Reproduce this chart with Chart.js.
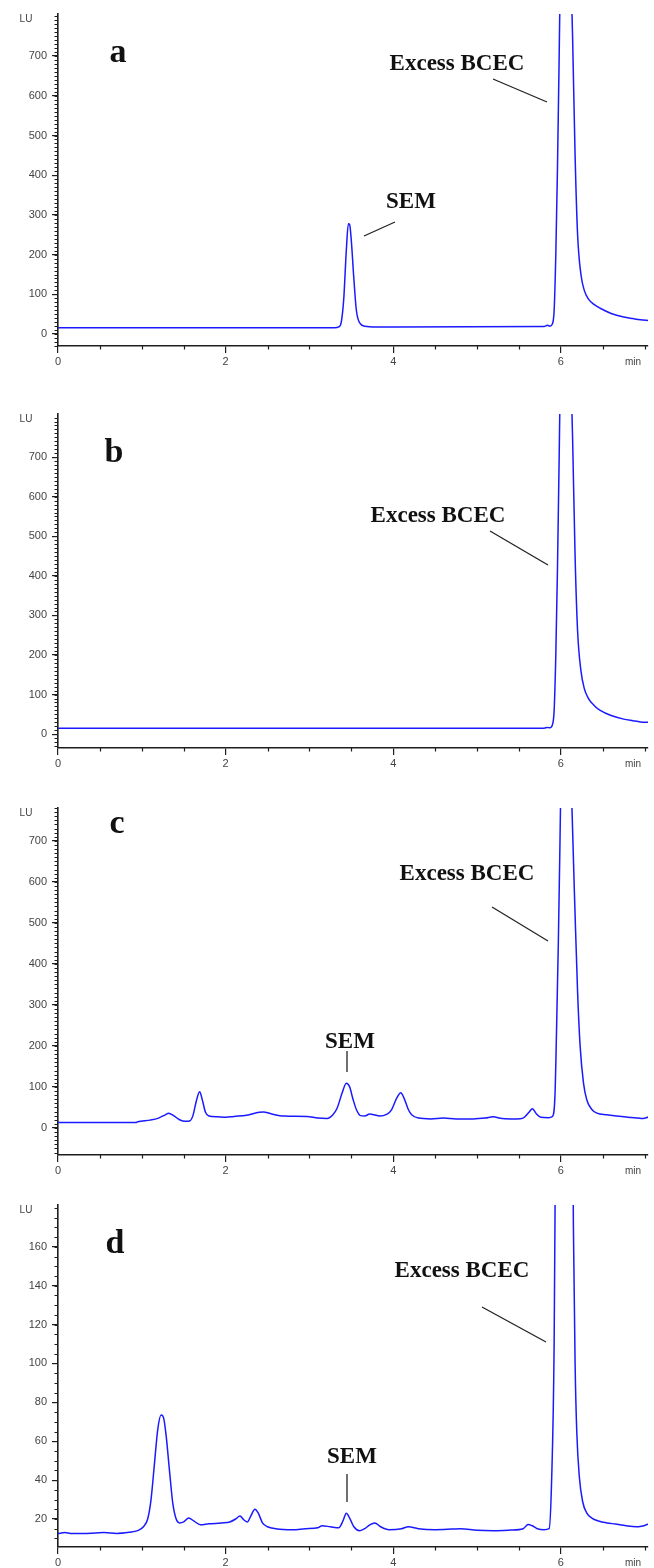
<!DOCTYPE html>
<html><head><meta charset="utf-8">
<script src="https://cdn.jsdelivr.net/npm/chart.js@4.4.1/dist/chart.umd.min.js"></script>
<style>
html,body{margin:0;padding:0;background:#fff;width:654px;height:1568px;overflow:hidden;}
.p{position:absolute;left:0;width:654px;}
canvas{display:block;}
</style></head><body>
<div class="p" style="top:0px;height:385px"><canvas id="ca" width="654" height="385"></canvas></div>
<div class="p" style="top:385px;height:395px"><canvas id="cb" width="654" height="395"></canvas></div>
<div class="p" style="top:780px;height:400px"><canvas id="cc" width="654" height="400"></canvas></div>
<div class="p" style="top:1180px;height:388px"><canvas id="cd" width="654" height="388"></canvas></div>
<script>
// ---- data (retention time in min, signal in LU) ----
const aTime   = [0, 3.30, 3.35, 3.38, 3.41, 3.44, 3.465, 3.48, 3.50, 3.53, 3.56, 3.60, 3.66, 3.80, 5.80, 5.84, 5.87, 5.90, 5.92, 5.94, 5.96, 5.98, 6.00, 6.04, 6.08, 6.11, 6.14, 6.17, 6.20, 6.24, 6.28, 6.33, 6.40, 6.47, 6.60, 6.75, 6.86, 6.95, 7.05];
const aSignal = [16, 16, 18, 30, 90, 210, 278, 276, 235, 140, 60, 28, 20, 18, 19, 22, 20, 26, 60, 200, 420, 700, 1000, 1400, 1300, 1000, 750, 450, 250, 150, 110, 88, 74, 65, 52, 43, 39, 36, 34];

const bTime   = [0, 5.80, 5.84, 5.87, 5.90, 5.92, 5.94, 5.96, 5.98, 6.00, 6.04, 6.08, 6.11, 6.14, 6.17, 6.20, 6.24, 6.28, 6.33, 6.40, 6.47, 6.60, 6.75, 6.86, 6.95, 7.05];
const bSignal = [15, 15, 17, 16, 24, 60, 200, 420, 700, 1000, 1400, 1300, 1000, 750, 450, 260, 160, 115, 90, 72, 60, 47, 38, 34, 31, 30];

const cTime   = [0, 0.93, 0.95, 1.10, 1.20, 1.28, 1.32, 1.38, 1.45, 1.52, 1.57, 1.61, 1.65, 1.69, 1.72, 1.76, 1.80, 1.90, 2.00, 2.10, 2.25, 2.40, 2.45, 2.55, 2.70, 2.97, 3.10, 3.21, 3.28, 3.33, 3.39, 3.44, 3.48, 3.52, 3.56, 3.61, 3.66, 3.72, 3.77, 3.84, 3.92, 3.98, 4.04, 4.09, 4.13, 4.18, 4.22, 4.30, 4.45, 4.60, 4.75, 4.95, 5.10, 5.19, 5.30, 5.47, 5.55, 5.62, 5.66, 5.71, 5.76, 5.85, 5.90, 5.93, 5.95, 5.97, 5.99, 6.02, 6.06, 6.10, 6.13, 6.17, 6.20, 6.23, 6.27, 6.31, 6.37, 6.43, 6.55, 6.67, 6.80, 6.92, 6.98, 7.05];
const cSignal = [13, 13, 15, 19, 24, 32, 36, 30, 20, 16, 17, 30, 65, 88, 70, 38, 29, 27, 26, 28, 31, 38, 39, 34, 29, 28, 24, 23, 32, 48, 85, 109, 100, 70, 45, 30, 29, 34, 32, 29, 33, 44, 72, 86, 72, 45, 32, 24, 22, 24, 22, 22, 24, 27, 23, 22, 24, 38, 47, 34, 26, 25, 28, 80, 250, 450, 700, 1100, 1300, 1100, 800, 520, 330, 200, 110, 68, 45, 36, 32, 29, 26, 24, 23, 27];

const dTime   = [0, 0.08, 0.15, 0.30, 0.45, 0.55, 0.70, 0.85, 0.95, 1.02, 1.07, 1.11, 1.15, 1.19, 1.23, 1.26, 1.29, 1.33, 1.37, 1.41, 1.45, 1.50, 1.56, 1.62, 1.70, 1.80, 1.95, 2.05, 2.12, 2.17, 2.22, 2.26, 2.30, 2.35, 2.39, 2.44, 2.50, 2.60, 2.80, 2.95, 3.10, 3.15, 3.25, 3.35, 3.40, 3.44, 3.48, 3.53, 3.60, 3.66, 3.72, 3.78, 3.85, 3.95, 4.10, 4.18, 4.30, 4.50, 4.70, 4.80, 5.00, 5.20, 5.40, 5.55, 5.61, 5.66, 5.72, 5.80, 5.86, 5.89, 5.92, 5.95, 5.99, 6.04, 6.09, 6.13, 6.15, 6.17, 6.19, 6.22, 6.26, 6.31, 6.37, 6.45, 6.55, 6.65, 6.78, 6.90, 6.96, 7.02, 7.05];
const dSignal = [12.5, 13, 12.6, 12.5, 12.8, 13, 12.6, 13.2, 14, 16, 20, 30, 48, 66, 73.5, 72, 63, 45, 28, 20, 18, 18.5, 20.5, 19, 17, 17.5, 18, 18.5, 20, 21.5, 19.5, 18.5, 21.5, 25, 23, 18, 16, 15, 14.5, 15, 15.5, 16.5, 16, 15.5, 19, 23, 20.5, 16, 14, 15, 17, 18, 16, 14.5, 15, 16, 15, 14.5, 14.8, 15, 14.2, 14, 14.3, 15, 17.2, 16.5, 15, 14.5, 15, 40, 110, 300, 700, 1000, 700, 300, 170, 100, 65, 42, 29, 23, 20.5, 19, 18, 17.4, 16.5, 16, 16.3, 17, 17.4];

// ---- tick labels ----
const xMajorTicks = [0, 2, 4, 6];
const yTicksLarge = [0, 100, 200, 300, 400, 500, 600, 700];
const yTicksSmall = [20, 40, 60, 80, 100, 120, 140, 160];

const LINE = '#1a1aff';
const AXIS = '#1e1e1e';
const TXT = '#444444';

function annot(o) {
  return {
    id: 'annot_' + o.id,
    afterDraw(chart) {
      const ctx = chart.ctx, xs = chart.scales.x, ys = chart.scales.y, ca = chart.chartArea;
      ctx.save();
      // minor ticks
      ctx.strokeStyle = AXIS; ctx.lineWidth = 1.2;
      ctx.beginPath();
      for (let v = o.minorStart; v <= ys.max + 1e-9; v += o.minorStep) {
        const py = Math.round(ys.getPixelForValue(v)) + 0.5;
        ctx.moveTo(ca.left - 3.5, py); ctx.lineTo(ca.left, py);
      }
      for (let t = 0.5; t <= xs.max + 1e-9; t += 0.5) {
        if (xMajorTicks.includes(t)) continue;
        const px = Math.round(xs.getPixelForValue(t)) + 0.5;
        ctx.moveTo(px, ca.bottom); ctx.lineTo(px, ca.bottom + 3.5);
      }
      ctx.stroke();
      // unit labels
      ctx.fillStyle = TXT; ctx.font = '10px "Liberation Sans", Arial, sans-serif';
      ctx.textAlign = 'center'; ctx.textBaseline = 'middle';
      ctx.fillText('LU', 26, ca.top + 5);
      ctx.fillText('min', 633, ca.bottom + 16);
      // annotations
      const top = o.top;
      ctx.fillStyle = '#111';
      ctx.textBaseline = 'alphabetic';
      ctx.font = 'bold 34px "Liberation Serif", "Times New Roman", serif';
      ctx.fillText(o.letter[0], o.letter[1], o.letter[2] - top);
      ctx.font = 'bold 23px "Liberation Serif", "Times New Roman", serif';
      ctx.fillText('Excess BCEC', o.excess[0], o.excess[1] - top);
      ctx.strokeStyle = '#222'; ctx.lineWidth = 1.3;
      ctx.beginPath();
      ctx.moveTo(o.excessLine[0], o.excessLine[1] - top); ctx.lineTo(o.excessLine[2], o.excessLine[3] - top);
      ctx.stroke();
      if (o.sem) {
        ctx.fillText('SEM', o.sem[0], o.sem[1] - top);
        ctx.beginPath();
        ctx.moveTo(o.semLine[0], o.semLine[1] - top); ctx.lineTo(o.semLine[2], o.semLine[3] - top);
        ctx.stroke();
      }
      ctx.restore();
    }
  };
}

function makePanel(o) {
  const data = o.t.map((t, i) => ({x: t, y: o.v[i]}));
  new Chart(document.getElementById(o.id), {
    type: 'line',
    data: {datasets: [{data, borderColor: LINE, borderWidth: 1.5, pointRadius: 0, cubicInterpolationMode: 'monotone', fill: false}]},
    options: {
      responsive: false, animation: false,
      layout: {padding: {top: o.padTop, right: 6, left: 0, bottom: 0}},
      plugins: {legend: {display: false}, tooltip: {enabled: false}},
      scales: {
        x: {
          type: 'linear', min: 0, max: 7.04,
          afterBuildTicks: s => { s.ticks = xMajorTicks.map(v => ({value: v})); },
          afterFit: s => { s.height = o.xH; },
          grid: {drawOnChartArea: false, tickLength: 7, tickColor: AXIS, lineWidth: 1.2},
          border: {color: AXIS, width: 1.6},
          ticks: {color: TXT, font: {family: '"Liberation Sans", Arial, sans-serif', size: 11}, padding: 2, maxRotation: 0, autoSkip: false}
        },
        y: {
          type: 'linear', min: o.yMin, max: o.yMax,
          afterBuildTicks: s => { s.ticks = o.yTicks.map(v => ({value: v})); },
          afterFit: s => { s.width = 58; },
          grid: {drawOnChartArea: false, tickLength: 6, tickColor: AXIS, lineWidth: 1.2},
          border: {color: AXIS, width: 1.6},
          ticks: {color: TXT, font: {family: '"Liberation Sans", Arial, sans-serif', size: 11}, padding: 5, autoSkip: false}
        }
      }
    },
    plugins: [annot(o)]
  });
}

makePanel({id: 'ca', top: 0, t: aTime, v: aSignal, padTop: 14, xH: 39, yMin: -30, yMax: 806, yTicks: yTicksLarge, minorStart: -30, minorStep: 10,
  letter: ['a', 118, 62], excess: [457, 70], excessLine: [493, 79, 547, 102], sem: [411, 208], semLine: [395, 222, 364, 236]});
makePanel({id: 'cb', top: 385, t: bTime, v: bSignal, padTop: 29, xH: 32, yMin: -35, yMax: 809, yTicks: yTicksLarge, minorStart: -30, minorStep: 10,
  letter: ['b', 114, 462], excess: [438, 522], excessLine: [490, 531, 548, 565]});
makePanel({id: 'cc', top: 780, t: cTime, v: cSignal, padTop: 28, xH: 25, yMin: -66, yMax: 780, yTicks: yTicksLarge, minorStart: -60, minorStep: 10,
  letter: ['c', 117, 833], excess: [467, 880], excessLine: [492, 907, 548, 941], sem: [350, 1048], semLine: [347, 1051, 347, 1072]});
makePanel({id: 'cd', top: 1180, t: dTime, v: dSignal, padTop: 25, xH: 21, yMin: 5.6, yMax: 181.5, yTicks: yTicksSmall, minorStart: 10, minorStep: 5,
  letter: ['d', 115, 1253], excess: [462, 1277], excessLine: [482, 1307, 546, 1342], sem: [352, 1463], semLine: [347, 1474, 347, 1502]});
</script>
</body></html>
